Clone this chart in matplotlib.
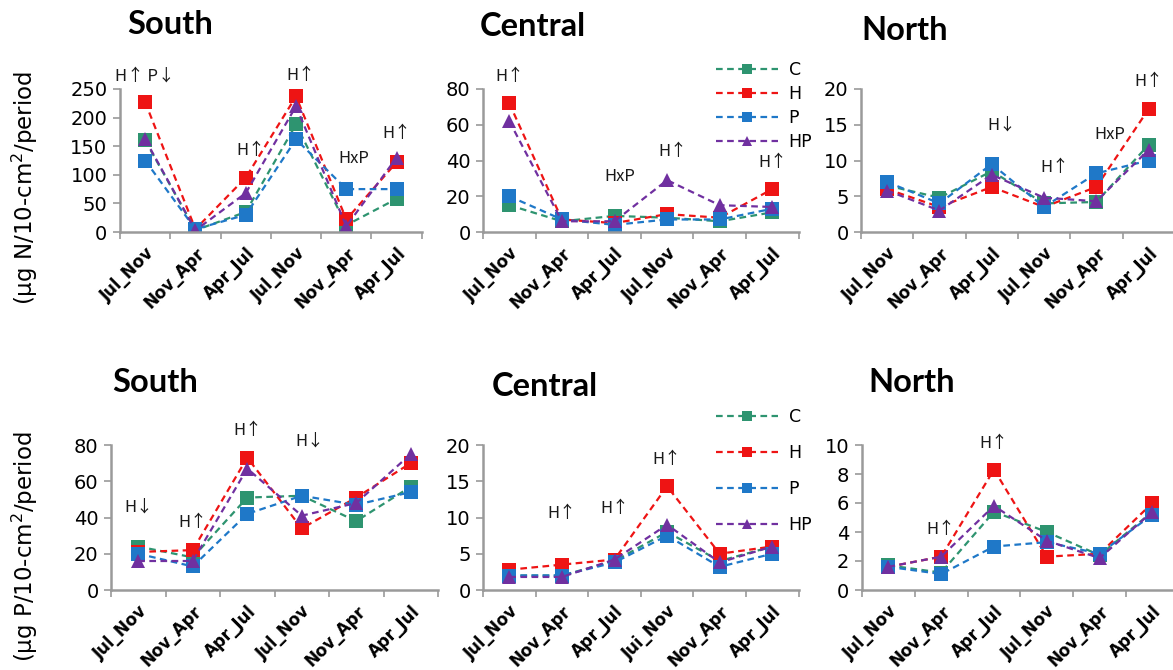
import matplotlib.pyplot as plt
import numpy as np

# periods on the x axis (the bottom Central panel really says "Jui_Nov")
periods = ['Jul_Nov', 'Nov_Apr', 'Apr_Jul', 'Jul_Nov', 'Nov_Apr', 'Apr_Jul']
periods_typo = ['Jul_Nov', 'Nov_Apr', 'Apr_Jul', 'Jui_Nov', 'Nov_Apr', 'Apr_Jul']
treatments = ['C', 'H', 'P', 'HP']

# N flux (top row)
n_south = {'C': [160, 3, 35, 188, 12, 58],
           'H': [227, 5, 95, 237, 22, 122],
           'P': [125, 5, 30, 162, 75, 75],
           'HP': [162, 3, 68, 220, 10, 130]}
n_central = {'C': [15, 6, 9, 8, 6, 11],
             'H': [72, 7, 5, 10, 8, 24],
             'P': [20, 7, 4, 7, 7, 13],
             'HP': [62, 6, 6, 29, 15, 14]}
n_north = {'C': [6.5, 4.8, 8.5, 4.0, 4.2, 12.2],
           'H': [6.0, 3.5, 6.3, 3.5, 6.3, 17.2],
           'P': [7.0, 4.0, 9.5, 3.5, 8.2, 10.0],
           'HP': [5.8, 3.0, 8.0, 4.8, 4.3, 11.5]}

# P flux (bottom row)
p_south = {'C': [24, 18, 51, 52, 38, 57],
           'H': [21, 22, 73, 34, 51, 70],
           'P': [20, 13, 42, 52, 47, 54],
           'HP': [16, 16, 67, 41, 48, 75]}
p_central = {'C': [2.0, 2.0, 4.0, 8.0, 4.0, 6.0],
             'H': [2.8, 3.5, 4.2, 14.3, 5.0, 6.0],
             'P': [2.0, 2.0, 3.8, 7.5, 3.2, 5.0],
             'HP': [1.8, 1.8, 4.2, 9.0, 3.8, 6.0]}
p_north = {'C': [1.7, 1.2, 5.4, 4.0, 2.4, 5.4],
           'H': [1.6, 2.3, 8.3, 2.3, 2.5, 6.0],
           'P': [1.6, 1.1, 3.0, 3.3, 2.5, 5.2],
           'HP': [1.6, 2.3, 5.8, 3.4, 2.2, 5.4]}

# significance notes: (text, period index, y value)
n_south_notes = [('H↑ P↓', 0, 273), ('H↑', 2.1, 143), ('H↑', 3.1, 273),
                 ('HxP', 4.15, 129), ('H↑', 5, 172)]
n_central_notes = [('H↑', 0, 87), ('HxP', 2.1, 31), ('H↑', 3.1, 45), ('H↑', 5, 39)]
n_north_notes = [('H↓', 2.2, 15), ('H↑', 3.2, 9), ('HxP', 4.25, 13.6), ('H↑', 5, 21)]
p_south_notes = [('H↓', 0, 46), ('H↑', 1, 37.5), ('H↑', 2, 88), ('H↓', 3.15, 82)]
p_central_notes = [('H↑', 1, 10.6), ('H↑', 2, 11.2), ('H↑', 3, 18)]
p_north_notes = [('H↑', 1, 4.2), ('H↑', 2, 10.1)]

colors = {'C': '#2e9470', 'H': '#ee1414', 'P': '#1f78c8', 'HP': '#7030a0'}
markers = {'C': 's', 'H': 's', 'P': 's', 'HP': '^'}

W, H = 1173, 670
fig = plt.figure(figsize=(W / 100, H / 100), dpi=100)
grey = '#9a9a9a'


def make_panel(left, step, y0, ytop, data, notes, ymax, ystep, title, tx, ty,
               labels=periods, xmax=6):
    ax = fig.add_axes([left / W, 1 - y0 / H, xmax * step / W, (y0 - ytop) / H])
    x = np.arange(6) + 0.5
    for t in treatments:
        ax.plot(x, data[t], linestyle=(0, (3, 2)), lw=1.6, color=colors[t],
                marker=markers[t], markersize=10, markeredgewidth=0, label=t)
    ax.set_xlim(0, xmax)
    ax.set_ylim(0, ymax)
    ax.set_yticks(np.arange(0, ymax + ystep / 2, ystep))
    ax.set_xticks(np.arange(7))
    ax.set_xticklabels([])
    ax.set_xticks(x, minor=True)
    ax.set_xticklabels(labels, minor=True, rotation=45, ha='right',
                       rotation_mode='anchor', fontsize=12, fontweight='bold')
    ax.tick_params(axis='x', which='minor', length=0, pad=9)
    ax.tick_params(axis='x', which='major', length=5, color=grey, width=1.2)
    ax.tick_params(axis='y', length=5, color=grey, width=1.2, labelsize=14, pad=4)
    for s in ['top', 'right']:
        ax.spines[s].set_visible(False)
    for s in ['left', 'bottom']:
        ax.spines[s].set_color(grey)
        ax.spines[s].set_linewidth(1.8)
    ax.patch.set_alpha(0)
    for txt, i, yv in notes:
        ax.text(i + 0.5, yv, txt, ha='center', va='center', fontsize=12,
                color='#1a1a1a', clip_on=False,
                family=['Noto Sans CJK SC', 'DejaVu Sans'])
    fig.text(tx / W, 1 - ty / H, title, ha='center', va='center',
             fontsize=23.5, fontweight='bold', family='Lato')
    return ax


make_panel(120, 52.3, 232, 89, n_south, n_south_notes, 250, 50, 'South', 170, 24,
           xmax=5.77)
ax_nc = make_panel(483, 52.6, 232, 89, n_central, n_central_notes, 80, 20,
                   'Central', 533, 27)
make_panel(861, 52.3, 232, 89, n_north, n_north_notes, 20, 5, 'North', 905, 30)

make_panel(111, 54.5, 590, 445, p_south, p_south_notes, 80, 20, 'South', 155, 382)
ax_pc = make_panel(483, 52.6, 590, 445, p_central, p_central_notes, 20, 5,
                   'Central', 545, 387, labels=periods_typo)
make_panel(862, 52.8, 590, 445, p_north, p_north_notes, 10, 2, 'North', 912, 383)

ax_nc.legend(loc='upper left', bbox_to_anchor=(700 / W, 1 - 45 / H),
             bbox_transform=fig.transFigure, frameon=False, handlelength=3.6,
             fontsize=12.5, labelspacing=0.35, markerscale=0.75, handletextpad=0.6)
ax_pc.legend(loc='upper left', bbox_to_anchor=(700 / W, 1 - 392 / H),
             bbox_transform=fig.transFigure, frameon=False, handlelength=3.6,
             fontsize=12.5, labelspacing=1.05, markerscale=0.75, handletextpad=0.6)

fig.text(25 / W, 1 - 188 / H, '(μg N/10-cm$^2$/period', rotation=90,
         ha='center', va='center', fontsize=16.5)
fig.text(25 / W, 1 - 547 / H, '(μg P/10-cm$^2$/period', rotation=90,
         ha='center', va='center', fontsize=16.5)

fig.savefig('out.png', dpi=100)
